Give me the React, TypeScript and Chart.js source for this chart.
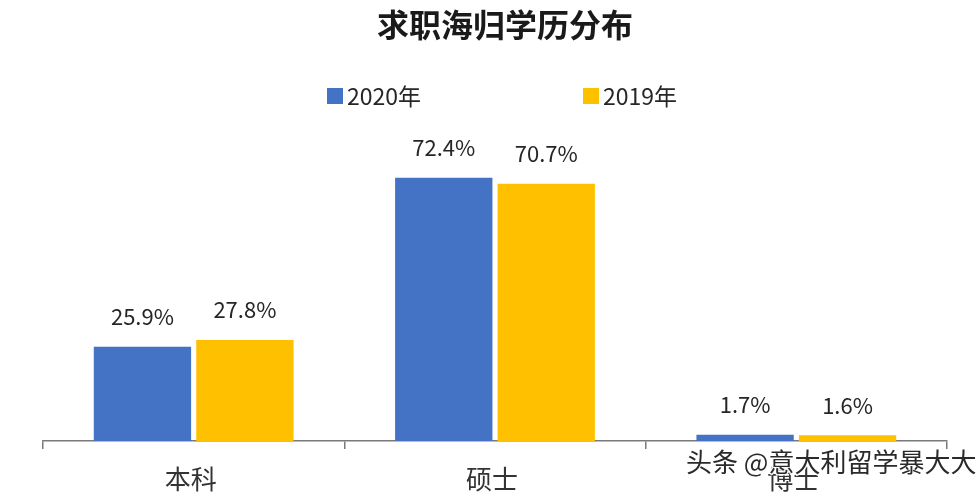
import React, { useEffect, useRef } from "react";
import { Chart, registerables } from "chart.js";

Chart.register(...registerables);

const titleText = "求职海归学历分布";
const categories = ["本科", "硕士", "博士"];
const seriesNames = ["2020年", "2019年"];
const values2020 = [25.9, 72.4, 1.7];
const values2019 = [27.8, 70.7, 1.6];
const watermark = "头条 @意大利留学暴大大";

const BLUE = "#4472C4";
const GOLD = "#FFC000";
const FONT = "'Noto Sans CJK SC', 'Noto Sans', sans-serif";

const overlayPlugin = {
  id: "overlay",
  afterDatasetsDraw(chart: any) {
    const ctx = chart.ctx;
    ctx.save();
    ctx.fillStyle = "#262626";
    ctx.font = `22px ${FONT}`;
    ctx.textAlign = "center";
    ctx.textBaseline = "middle";
    chart.data.datasets.forEach((ds: any, di: number) => {
      const meta = chart.getDatasetMeta(di);
      meta.data.forEach((bar: any, i: number) => {
        ctx.fillText(ds.data[i].toFixed(1) + "%", bar.x, bar.y - 30);
      });
    });
    ctx.restore();
  },
  afterDraw(chart: any) {
    const ctx = chart.ctx;
    const xScale = chart.scales.x;
    ctx.save();
    // category labels
    ctx.fillStyle = "#333";
    ctx.font = `26px ${FONT}`;
    ctx.textAlign = "center";
    ctx.textBaseline = "middle";
    categories.forEach((c, i) => {
      ctx.fillText(c, xScale.getPixelForValue(i) - 3, chart.chartArea.bottom + 38);
    });
    // title
    ctx.fillStyle = "#1a1a1a";
    ctx.font = `bold 32px ${FONT}`;
    ctx.fillText(titleText, 505, 25);
    // legend
    const items = [
      { x: 327, color: BLUE, text: seriesNames[0] },
      { x: 583, color: GOLD, text: seriesNames[1] },
    ];
    ctx.font = `23px ${FONT}`;
    ctx.textAlign = "left";
    items.forEach((it) => {
      ctx.fillStyle = it.color;
      ctx.fillRect(it.x, 88, 16, 16);
      ctx.fillStyle = "#262626";
      ctx.fillText(it.text, it.x + 20, 96);
    });
    // watermark
    ctx.font = `26px ${FONT}`;
    ctx.lineWidth = 3;
    ctx.strokeStyle = "rgba(255,255,255,0.9)";
    ctx.strokeText(watermark, 686, 462);
    ctx.fillStyle = "#2a2a2a";
    ctx.fillText(watermark, 686, 462);
    ctx.restore();
  },
};

export default function App() {
  const ref = useRef<HTMLCanvasElement | null>(null);
  useEffect(() => {
    document.body.style.margin = "0";
    const chart = new Chart(ref.current as HTMLCanvasElement, {
      type: "bar",
      data: {
        labels: categories,
        datasets: [
          { label: seriesNames[0], data: values2020, backgroundColor: BLUE },
          { label: seriesNames[1], data: values2019, backgroundColor: GOLD },
        ],
      },
      options: {
        animation: false,
        responsive: false,
        maintainAspectRatio: false,
        layout: { padding: { left: 43, right: 31, top: 150, bottom: 43 } },
        plugins: {
          legend: { display: false },
          title: { display: false },
          tooltip: { enabled: false },
        },
        datasets: {
          bar: { categoryPercentage: 0.68, barPercentage: 0.95 },
        },
        scales: {
          x: {
            grid: {
              offset: true,
              drawOnChartArea: false,
              drawTicks: true,
              tickLength: 8,
              color: "#7a7a7a",
              lineWidth: 1.5,
            },
            border: { display: true, color: "#7a7a7a", width: 1.5 },
            ticks: { display: false },
          },
          y: {
            display: false,
            min: 0,
            max: 80,
          },
        },
      },
      plugins: [overlayPlugin],
    } as any);
    return () => chart.destroy();
  }, []);
  return <canvas ref={ref} width={978} height={492} style={{ display: "block" }} />;
}
